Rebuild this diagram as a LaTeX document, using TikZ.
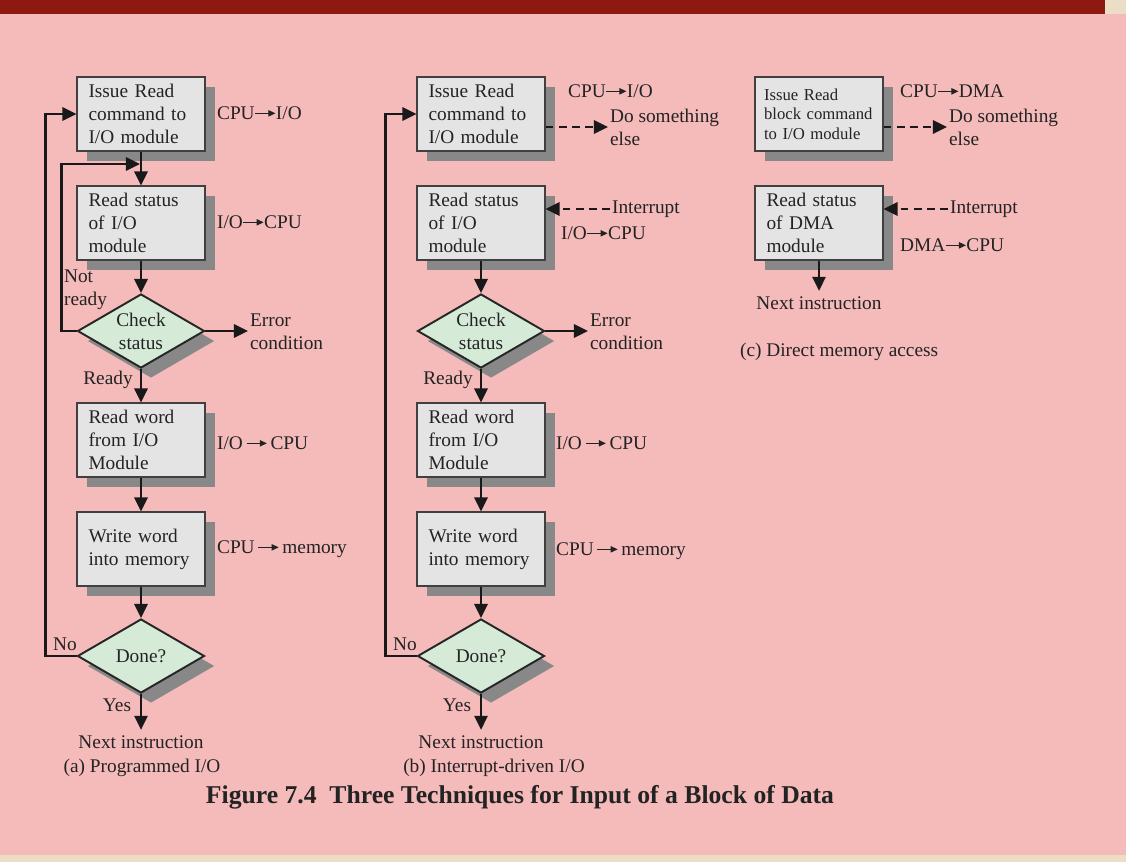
\documentclass[tikz,border=0pt]{standalone}
\usepackage{fontspec}
\setmainfont{Liberation Serif}
\usetikzlibrary{arrows.meta,shapes.geometric,shadows,calc}

\definecolor{barred}{RGB}{142,25,16}
\definecolor{bgpink}{RGB}{245,186,186}
\definecolor{sand}{RGB}{236,222,198}
\definecolor{boxgray}{RGB}{228,228,228}
\definecolor{shadegray}{RGB}{136,136,136}
\definecolor{chkgreen}{RGB}{214,234,216}
\definecolor{ink}{RGB}{35,35,35}

% small arrow used inside the transfer labels
\def\tarr{\tikz[baseline=-3.4pt]\draw[draw=ink, line width=0.6pt, -{Triangle[length=4pt,width=3.6pt]}] (0pt,0pt) -- (11.5pt,0pt);}

\tikzset{
	shade10/.style={drop shadow={shadow xshift=0.2cm, shadow yshift=-0.2cm, fill=shadegray, opacity=1}},
	stepbox/.style={rectangle, draw=black!75, line width=0.6pt, fill=boxgray, shade10,
		minimum width=2.56cm, minimum height=1.48cm, text width=2.1cm, inner xsep=0.23cm,
		align=left, font=\fontsize{11}{13}\selectfont, text=ink},
	smallbox/.style={stepbox, text width=2.2cm, inner xsep=0.18cm, font=\fontsize{9.5}{11}\selectfont},
	chkdia/.style={diamond, draw=black!85, line width=1.1pt, fill=chkgreen, shade10, aspect=1.7,
		inner sep=0pt, minimum width=2.54cm, minimum height=1.48cm, align=center,
		font=\fontsize{11}{13}\selectfont, text=ink},
	lbl/.style={font=\fontsize{11}{13}\selectfont, text=ink, inner sep=1pt, align=left},
	flow/.style={line width=1.4pt, draw=black!90, -{Triangle[length=8pt,width=7.5pt]}},
	dashflow/.style={flow, dash pattern=on 4.5pt off 3pt}
}

\begin{document}
\begin{tikzpicture}[x=0.02cm, y=-0.02cm]
		%%%%% START %%%%%
		\useasboundingbox (0,0) rectangle (1126,862);
		\fill[bgpink] (0,0) rectangle (1126,862);
		\fill[barred] (0,0) rectangle (1105,14);
		\fill[sand] (1105,0) rectangle (1126,14);
		\fill[sand] (0,855) rectangle (1126,862);
		
		% (a) and (b) share the main flow
		\foreach \c/\dx in {a/0, b/340} {
			\node[stepbox] (iss\c) at (141+\dx,114) {Issue Read\\command to\\I/O module};
			\node[stepbox] (rd\c) at (141+\dx,223) {Read status\\of I/O\\module};
			\node[chkdia] (chk\c) at (141+\dx,331) {Check\\status};
			\node[stepbox] (rw\c) at (141+\dx,440) {Read word\\from I/O\\Module};
			\node[stepbox] (ww\c) at (141+\dx,549) {Write word\\into memory};
			\node[chkdia] (done\c) at (141+\dx,656) {Done?};
			\node[lbl, inner sep=3pt] (next\c) at (141+\dx,742) {Next instruction};
			
			\node[lbl, anchor=west] (err\c) at (248+\dx,332) {Error\\condition};
			\node[lbl] (rdy\c) at (108+\dx,380) {Ready};
			\node[lbl] (no\c) at (65+\dx,644) {No};
			\node[lbl] (yes\c) at (117+\dx,705) {Yes};
			
			\draw[flow] (rd\c) -- (chk\c);
			\draw[flow] (chk\c.east) -- (chk\c.east -| err\c.west);
			\draw[flow] (chk\c) -- (rw\c);
			\draw[flow] (rw\c) -- (ww\c);
			\draw[flow] (ww\c) -- (done\c);
			\draw[flow] (done\c) -- (next\c);
			\draw[flow] (done\c.west) -- ++(-31,0) |- (iss\c.west);
		}
		
		% (a) Programmed I/O
		\node[lbl, anchor=west] (cpa) at (215,113) {CPU\tarr I/O};
		\node[lbl, anchor=west] (ioa) at (215,222) {I/O\tarr CPU};
		\node[lbl, anchor=west] (ioa2) at (215,443) {I/O\,\tarr\,CPU};
		\node[lbl, anchor=west] (cma) at (215,549) {CPU\,\tarr\,memory};
		\node[lbl, anchor=west] (nra) at (62,290) {Not\\ready};
		\node[lbl] (capa) at (142,768) {(a) Programmed I/O};
		\coordinate (ja) at (140,164);
		\draw[flow] (issa) -- (rda);
		\draw[flow] (chka.west) -- ++(-15,0) |- (ja);
		
		% (b) Interrupt-driven I/O
		\node[lbl, anchor=west] (cpb) at (566,91) {CPU\tarr I/O};
		\node[lbl, anchor=west] (dseb) at (608,127) {Do something\\else};
		\node[lbl, anchor=west] (intb) at (610,209) {Interrupt};
		\node[lbl, anchor=west] (iob) at (559,233) {I/O\tarr CPU};
		\node[lbl, anchor=west] (iob2) at (554,443) {I/O\,\tarr\,CPU};
		\node[lbl, anchor=west] (cmb) at (554,551) {CPU\,\tarr\,memory};
		\node[lbl] (capb) at (494,768) {(b) Interrupt-driven I/O};
		\draw[dashflow] (issb.east |- dseb.west) -- (dseb.west);
		\draw[dashflow] (intb.west) -- (rdb.east |- intb.west);
		
		% (c) Direct memory access
		\node[smallbox] (issc) at (819,114) {Issue Read\\block command\\to I/O module};
		\node[stepbox] (rdc) at (819,223) {Read status\\of DMA\\module};
		\node[lbl, inner sep=3pt] (nextc) at (819,303) {Next instruction};
		\node[lbl, anchor=west] (cpc) at (898,91) {CPU\tarr DMA};
		\node[lbl, anchor=west] (dsec) at (947,127) {Do something\\else};
		\node[lbl, anchor=west] (intc) at (948,209) {Interrupt};
		\node[lbl, anchor=west] (dmc) at (898,245) {DMA\tarr CPU};
		\node[lbl, anchor=west] (capc) at (738,352) {(c) Direct memory access};
		\draw[dashflow] (issc.east |- dsec.west) -- (dsec.west);
		\draw[dashflow] (intc.west) -- (rdc.east |- intc.west);
		\draw[flow] (rdc) -- (nextc);
		
		\node[font=\bfseries\fontsize{14.6}{17}\selectfont, text=ink] (fig) at (520,797) {Figure 7.4\ \ Three Techniques for Input of a Block of Data};
		%%%%% END %%%%%
\end{tikzpicture}
\end{document}
